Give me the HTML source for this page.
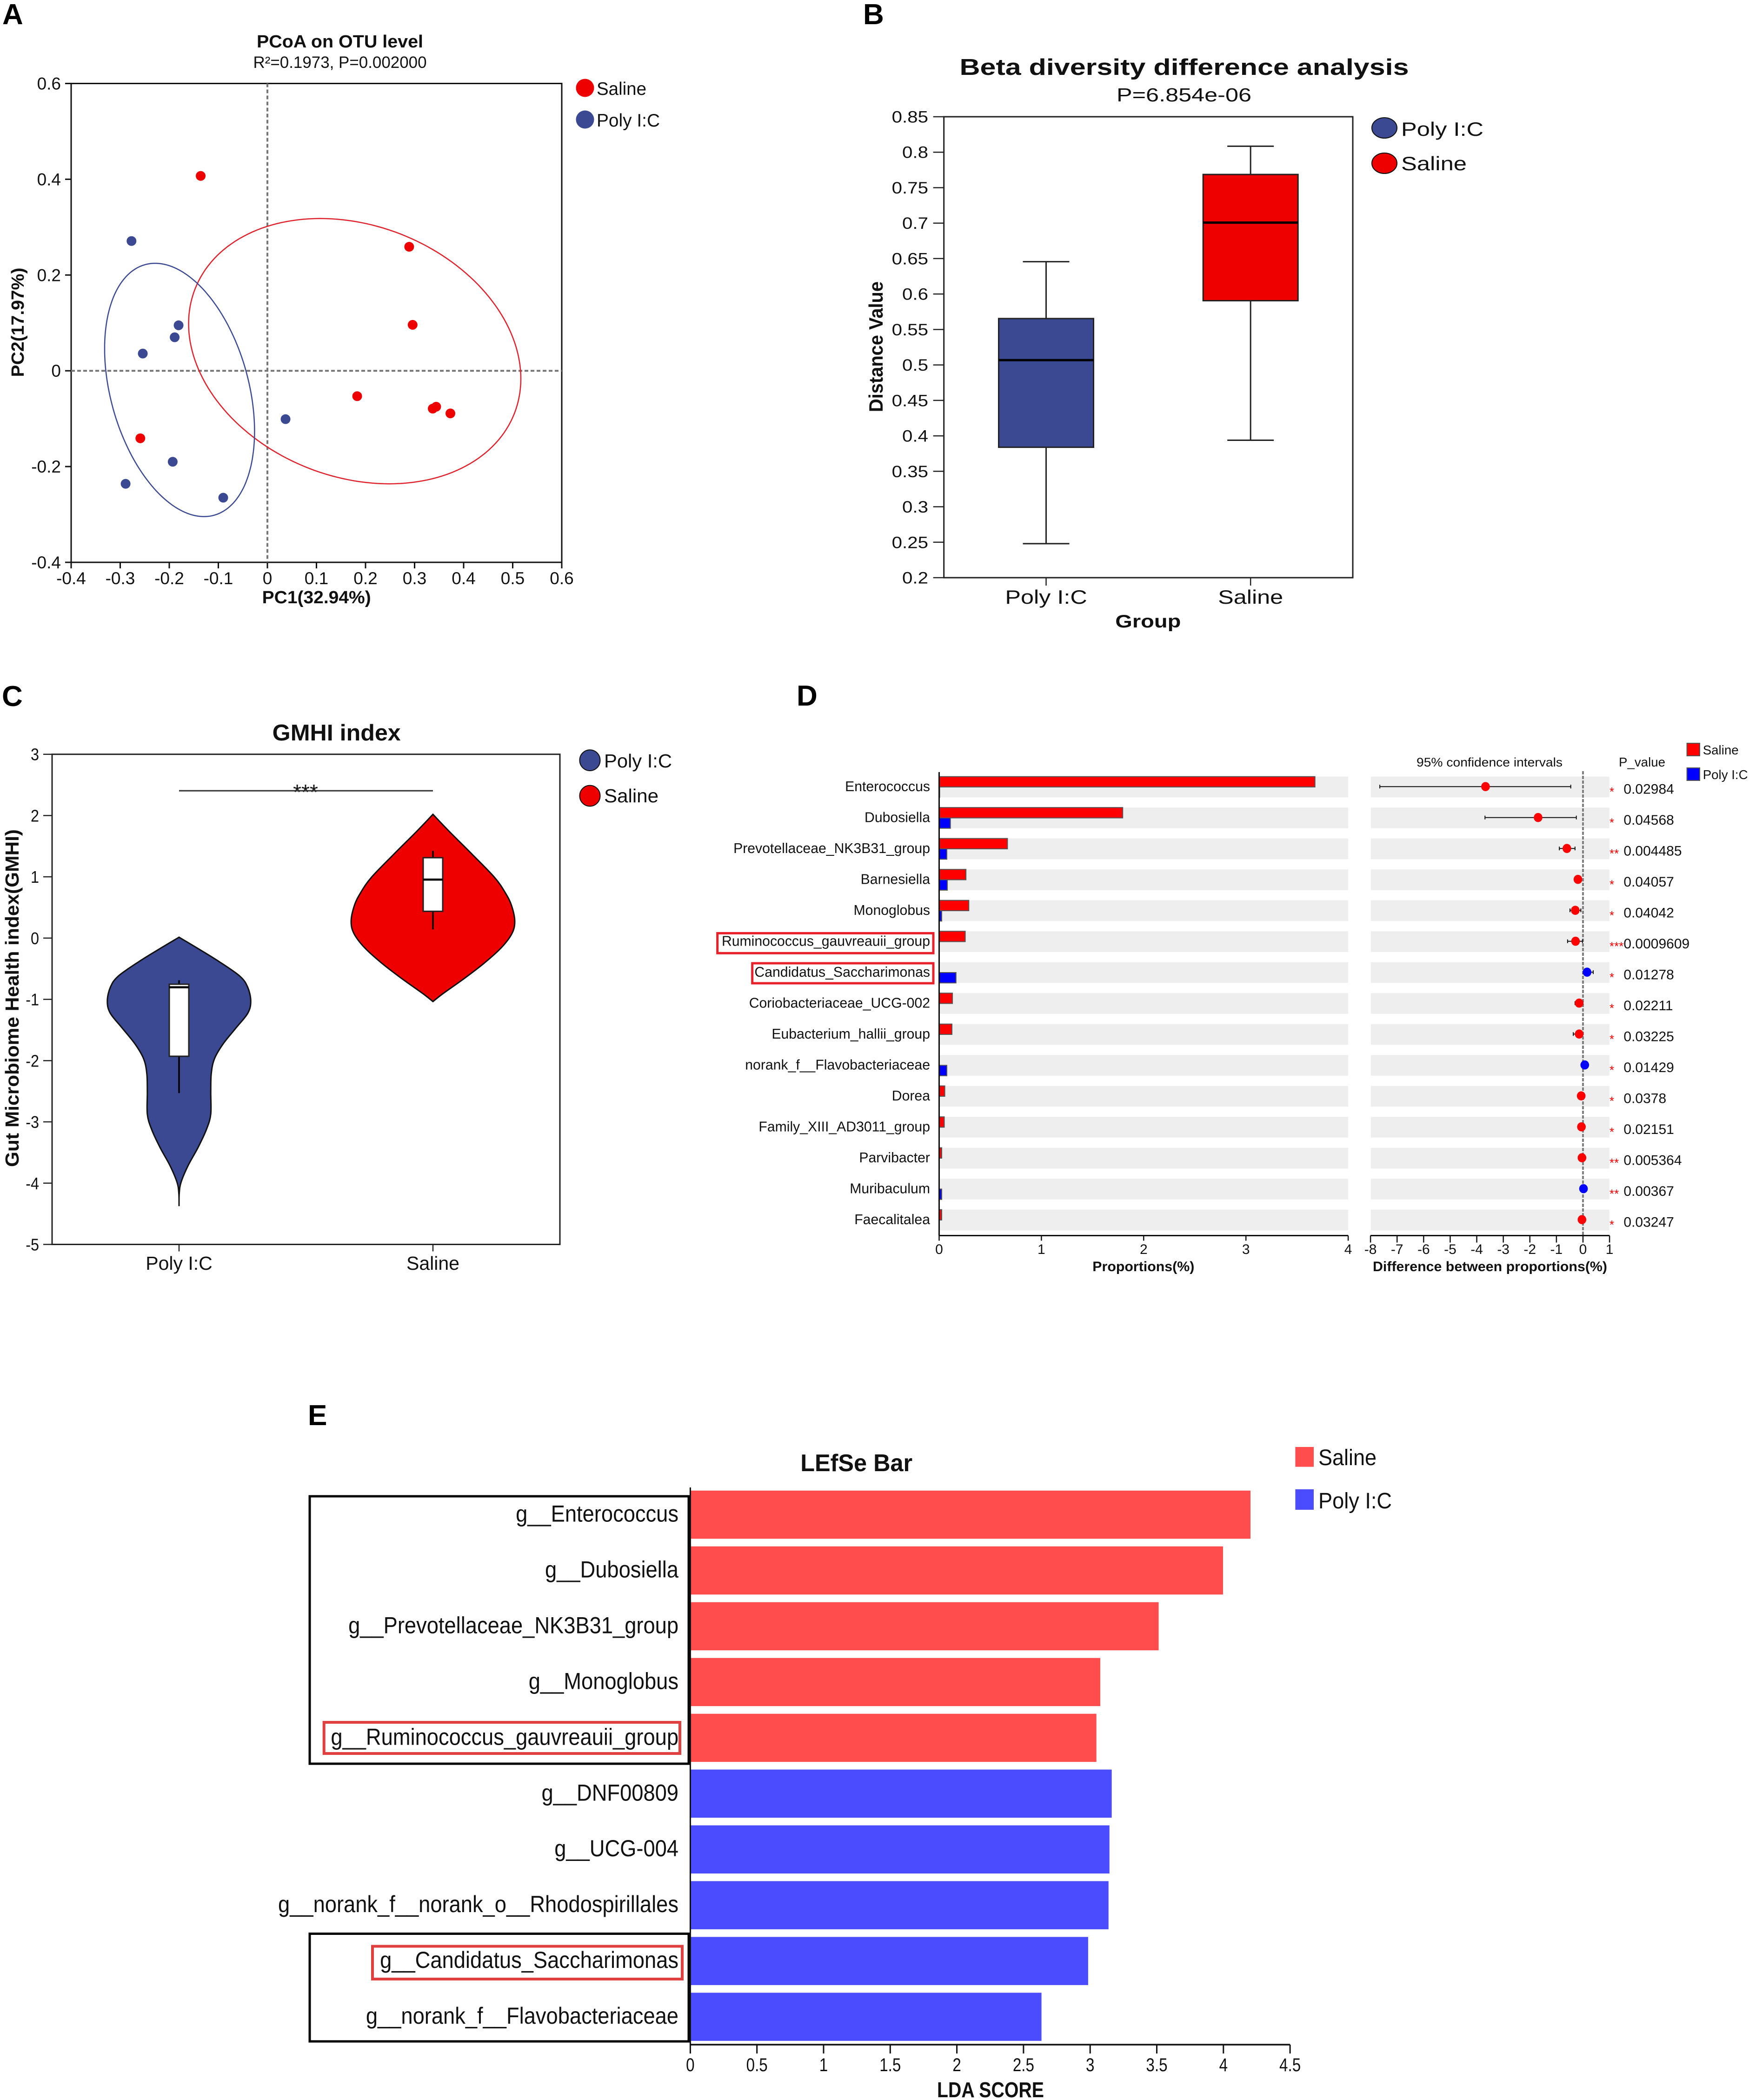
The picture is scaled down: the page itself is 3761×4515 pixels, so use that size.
<!DOCTYPE html>
<html lang="en">
<head>
<meta charset="utf-8">
<title>Gut microbiome figure</title>
<style>
html,body{margin:0;padding:0;background:#fff;}
svg{display:block;font-family:"Liberation Sans",sans-serif;fill:#111;}
text{white-space:pre;}
</style>
</head>
<body>
<svg id="figure" xmlns="http://www.w3.org/2000/svg" width="3761" height="4515" viewBox="0 0 3761 4515">
<rect x="0" y="0" width="3761" height="4515" fill="#fff"/>

<g id="panelA">
  <text x="5" y="52" font-size="62" font-weight="700" fill="#000">A</text>
  <text x="731" y="102" font-size="38" font-weight="700" text-anchor="middle" textLength="358" lengthAdjust="spacingAndGlyphs">PCoA on OTU level</text>
  <text x="731" y="146" font-size="34.8" text-anchor="middle" textLength="373" lengthAdjust="spacingAndGlyphs">R²=0.1973, P=0.002000</text>
  <text x="680.7" y="1297" font-size="38" font-weight="700" text-anchor="middle" textLength="234" lengthAdjust="spacingAndGlyphs">PC1(32.94%)</text>
  <text transform="translate(51,693) rotate(-90)" font-size="38" font-weight="700" text-anchor="middle" textLength="235" lengthAdjust="spacingAndGlyphs">PC2(17.97%)</text>
  <circle cx="1258" cy="189" r="19.5" fill="#EE0000"/>
  <text x="1283" y="204" font-size="38.5" textLength="107" lengthAdjust="spacingAndGlyphs">Saline</text>
  <circle cx="1258" cy="257" r="19.5" fill="#3B4992"/>
  <text x="1283" y="272" font-size="38.5" textLength="136" lengthAdjust="spacingAndGlyphs">Poly I:C</text>
</g>

<g id="panelB">
  <text x="1856" y="52" font-size="62" font-weight="700" fill="#000">B</text>
  <text x="2546.5" y="161" font-size="49" font-weight="700" text-anchor="middle" textLength="966" lengthAdjust="spacingAndGlyphs">Beta diversity difference analysis</text>
  <text x="2546" y="218" font-size="41" text-anchor="middle" textLength="290" lengthAdjust="spacingAndGlyphs">P=6.854e-06</text>
  <text x="2468.8" y="1349" font-size="39" font-weight="700" text-anchor="middle" textLength="141" lengthAdjust="spacingAndGlyphs">Group</text>
  <text transform="translate(1898,745.5) rotate(-90)" font-size="42" font-weight="700" text-anchor="middle" textLength="281" lengthAdjust="spacingAndGlyphs">Distance Value</text>
  <ellipse cx="2977" cy="275" rx="27" ry="22" fill="#3B4992" stroke="#111" stroke-width="2"/>
  <text x="3013" y="292" font-size="42" textLength="177" lengthAdjust="spacingAndGlyphs">Poly I:C</text>
  <ellipse cx="2977" cy="351" rx="27" ry="22" fill="#EE0000" stroke="#111" stroke-width="2"/>
  <text x="3013" y="366" font-size="42" textLength="141" lengthAdjust="spacingAndGlyphs">Saline</text>
</g>

<g id="panelC">
  <text x="4" y="1518" font-size="62" font-weight="700" fill="#000">C</text>
  <text x="723.7" y="1592" font-size="49" font-weight="700" text-anchor="middle" textLength="276" lengthAdjust="spacingAndGlyphs">GMHI index</text>
  <text transform="translate(40,2146) rotate(-90)" font-size="41" font-weight="700" text-anchor="middle" textLength="726" lengthAdjust="spacingAndGlyphs">Gut Microbiome Health index(GMHI)</text>
  <ellipse cx="1268.5" cy="1634.6" rx="22" ry="22.4" fill="#3B4992" stroke="#111" stroke-width="2"/>
  <text x="1299" y="1650" font-size="41" textLength="146" lengthAdjust="spacingAndGlyphs">Poly I:C</text>
  <ellipse cx="1268.5" cy="1711" rx="22" ry="22.4" fill="#EE0000" stroke="#111" stroke-width="2"/>
  <text x="1299" y="1725" font-size="41" textLength="117" lengthAdjust="spacingAndGlyphs">Saline</text>
  <text x="657" y="1719" font-size="46" text-anchor="middle">***</text>
</g>

<g id="panelD">
  <text x="1713" y="1517" font-size="62" font-weight="700" fill="#000">D</text>
  <text x="2458.8" y="2733" font-size="30" font-weight="700" text-anchor="middle" textLength="219" lengthAdjust="spacingAndGlyphs">Proportions(%)</text>
  <text x="3204" y="2733" font-size="30" font-weight="700" text-anchor="middle" textLength="504" lengthAdjust="spacingAndGlyphs">Difference between proportions(%)</text>
  <text x="3203" y="1648" font-size="27" text-anchor="middle" textLength="314" lengthAdjust="spacingAndGlyphs">95% confidence intervals</text>
  <text x="3481" y="1648" font-size="27.5" textLength="100" lengthAdjust="spacingAndGlyphs">P_value</text>
  <rect x="3627.6" y="1598" width="27.4" height="27" fill="#ff0000" stroke="#555" stroke-width="2"/>
  <text x="3661.7" y="1622" font-size="27.7">Saline</text>
  <rect x="3627.6" y="1651" width="27.4" height="27" fill="#0000ff" stroke="#555" stroke-width="2"/>
  <text x="3661.7" y="1675" font-size="27.7">Poly I:C</text>
  <rect x="1542.7" y="2006.4" width="464.3" height="42.9" fill="none" stroke="#e8202a" stroke-width="5"/>
  <rect x="1617.7" y="2071" width="389.3" height="43" fill="none" stroke="#e8202a" stroke-width="5"/>
</g>

<g id="panelE">
  <text x="662" y="3064" font-size="62" font-weight="700" fill="#000">E</text>
  <text x="1841.7" y="3163" font-size="52" font-weight="700" text-anchor="middle" textLength="241" lengthAdjust="spacingAndGlyphs">LEfSe Bar</text>
  <text x="2130" y="4509" font-size="46" font-weight="700" text-anchor="middle" textLength="230" lengthAdjust="spacingAndGlyphs">LDA SCORE</text>
  <rect x="2785.4" y="3111" width="39.6" height="42.6" fill="#ff4d4d"/>
  <text x="2835" y="3150" font-size="48" textLength="125" lengthAdjust="spacingAndGlyphs">Saline</text>
  <rect x="2785.4" y="3202" width="39.6" height="44" fill="#4c4cff"/>
  <text x="2835" y="3243" font-size="48" textLength="158" lengthAdjust="spacingAndGlyphs">Poly I:C</text>
  <rect x="666" y="3217" width="815" height="575" fill="none" stroke="#000" stroke-width="5"/>
  <rect x="666" y="4157.5" width="815" height="231.5" fill="none" stroke="#000" stroke-width="5"/>
  <rect x="696.7" y="3703" width="765.3" height="67" fill="none" stroke="#e04040" stroke-width="6"/>
  <rect x="801" y="4184.5" width="666" height="70.5" fill="none" stroke="#e04040" stroke-width="6"/>
</g>
</svg>

<script>
// ---------- Panel A data ----------
const pcoaXTicks = [-0.4, -0.3, -0.2, -0.1, 0, 0.1, 0.2, 0.3, 0.4, 0.5, 0.6];
const pcoaYTicks = [-0.4, -0.2, 0, 0.2, 0.4, 0.6];
const pcoaSalineX = [-0.136, 0.289, 0.296, 0.183, 0.337, 0.344, 0.373, -0.259];
const pcoaSalineY = [0.407, 0.259, 0.096, -0.053, -0.079, -0.075, -0.089, -0.141];
const pcoaPolyX = [-0.277, -0.181, -0.189, -0.254, 0.037, -0.193, -0.289, -0.09];
const pcoaPolyY = [0.271, 0.095, 0.07, 0.036, -0.101, -0.19, -0.236, -0.265];
const salineEllipse = [0.178, 0.041, 0.3386, 0.277, -0.2075];
const polyEllipse = [-0.179, -0.04, 0.1528, 0.2645, -0.326];

// ---------- Panel B data ----------
const boxGroups = ["Poly I:C", "Saline"];
const boxTicks = [0.85, 0.8, 0.75, 0.7, 0.65, 0.6, 0.55, 0.5, 0.45, 0.4, 0.35, 0.3, 0.25, 0.2];
const boxMin = [0.248, 0.3938];
const boxQ1 = [0.3839, 0.5906];
const boxMedian = [0.5068, 0.7007];
const boxQ3 = [0.5654, 0.7686];
const boxMax = [0.6456, 0.8084];

// ---------- Panel C data ----------
const violinGroups = ["Poly I:C", "Saline"];
const violinTicks = [3, 2, 1, 0, -1, -2, -3, -4, -5];
const polyViolinValue = [0.014, -0.172, -0.383, -0.623, -0.803, -1.028, -1.224, -1.464, -1.733, -1.974, -2.214, -2.515, -2.874, -3.115, -3.415, -3.715, -3.986, -4.166, -4.375];
const polyViolinDensity = [0, 0.265, 0.555, 0.845, 0.953, 0.995, 0.955, 0.792, 0.608, 0.49, 0.447, 0.44, 0.44, 0.383, 0.265, 0.125, 0.028, 0.003, 0];
const salineViolinValue = [2.02, 1.747, 1.367, 0.988, 0.735, 0.532, 0.279, 0.077, -0.151, -0.404, -0.657, -0.91, -1.036];
const salineViolinDensity = [0, 0.221, 0.544, 0.856, 1.006, 1.09, 1.135, 1.097, 0.953, 0.716, 0.437, 0.135, 0];
const violinBoxMin = [-2.53, 0.14];
const violinBoxQ1 = [-1.929, 0.437];
const violinBoxMedian = [-0.803, 0.955];
const violinBoxQ3 = [-0.753, 1.312];
const violinBoxMax = [-0.689, 1.424];
const significanceLevel = [2.405];

// ---------- Panel D data ----------
const diffTaxa = ["Enterococcus", "Dubosiella", "Prevotellaceae_NK3B31_group", "Barnesiella", "Monoglobus", "Ruminococcus_gauvreauii_group", "Candidatus_Saccharimonas", "Coriobacteriaceae_UCG-002", "Eubacterium_hallii_group", "norank_f__Flavobacteriaceae", "Dorea", "Family_XIII_AD3011_group", "Parvibacter", "Muribaculum", "Faecalitalea"];
const salineProportion = [3.675, 1.795, 0.668, 0.262, 0.29, 0.255, 0, 0.13, 0.125, 0, 0.055, 0.05, 0.025, 0, 0.025];
const polyProportion = [0.005, 0.11, 0.075, 0.08, 0.025, 0, 0.165, 0, 0, 0.075, 0, 0, 0, 0.025, 0];
const proportionTicks = [0, 1, 2, 3, 4];
const difference = [-3.67, -1.69, -0.606, -0.19, -0.29, -0.28, 0.154, -0.144, -0.144, 0.067, -0.067, -0.058, -0.038, 0.019, -0.038];
const ciLow = [-7.65, -3.69, -0.89, -0.32, -0.49, -0.58, 0.01, -0.3, -0.365, -0.03, -0.14, -0.12, -0.09, -0.02, -0.1];
const ciHigh = [-0.46, -0.25, -0.3, -0.06, -0.08, -0.02, 0.385, -0.02, -0.02, 0.15, -0.01, -0.01, 0, 0.06, 0];
const differenceTicks = [-8, -7, -6, -5, -4, -3, -2, -1, 0, 1];
const pValues = ["0.02984", "0.04568", "0.004485", "0.04057", "0.04042", "0.0009609", "0.01278", "0.02211", "0.03225", "0.01429", "0.0378", "0.02151", "0.005364", "0.00367", "0.03247"];
const pStars = ["*", "*", "**", "*", "*", "***", "*", "*", "*", "*", "*", "*", "**", "**", "*"];

// ---------- Panel E data ----------
const lefseTaxa = ["g__Enterococcus", "g__Dubosiella", "g__Prevotellaceae_NK3B31_group", "g__Monoglobus", "g__Ruminococcus_gauvreauii_group", "g__DNF00809", "g__UCG-004", "g__norank_f__norank_o__Rhodospirillales", "g__Candidatus_Saccharimonas", "g__norank_f__Flavobacteriaceae"];
const lefseScores = [4.203, 3.997, 3.514, 3.076, 3.047, 3.162, 3.145, 3.138, 2.985, 2.635];
const lefseGroups = ["Saline", "Saline", "Saline", "Saline", "Saline", "Poly I:C", "Poly I:C", "Poly I:C", "Poly I:C", "Poly I:C"];
const lefseTicks = [0, 0.5, 1, 1.5, 2, 2.5, 3, 3.5, 4, 4.5];

// ---------- Helpers ----------
const NS = "http://www.w3.org/2000/svg";
function mk(tag, attrs, parent) {
  const e = document.createElementNS(NS, tag);
  for (const k in attrs) e.setAttribute(k, attrs[k]);
  parent.appendChild(e);
  return e;
}
function line(parent, x1, y1, x2, y2, color, width, dash) {
  const attrs = { x1: x1, y1: y1, x2: x2, y2: y2, stroke: color, "stroke-width": width };
  if (dash) attrs["stroke-dasharray"] = dash;
  return mk("line", attrs, parent);
}
function txt(parent, str, x, y, size, anchor, sx, color, bold) {
  const attrs = { "font-size": size, "text-anchor": anchor || "start" };
  if (sx && sx !== 1) {
    attrs.transform = "translate(" + x + "," + y + ") scale(" + sx + ",1)";
  } else {
    attrs.x = x;
    attrs.y = y;
  }
  if (color) attrs.fill = color;
  if (bold) attrs["font-weight"] = "700";
  const e = mk("text", attrs, parent);
  e.textContent = str;
  return e;
}
function smooth(pts, start) {
  let d = start ? "M" + pts[0][0] + " " + pts[0][1] : "L" + pts[0][0] + " " + pts[0][1];
  for (let i = 0; i < pts.length - 1; i++) {
    const p0 = pts[Math.max(i - 1, 0)], p1 = pts[i], p2 = pts[i + 1], p3 = pts[Math.min(i + 2, pts.length - 1)];
    const c1x = p1[0] + (p2[0] - p0[0]) / 6, c1y = p1[1] + (p2[1] - p0[1]) / 6;
    const c2x = p2[0] - (p3[0] - p1[0]) / 6, c2y = p2[1] - (p3[1] - p1[1]) / 6;
    d += "C" + c1x + " " + c1y + " " + c2x + " " + c2y + " " + p2[0] + " " + p2[1];
  }
  return d;
}
const BLUE = "#3B4992", RED = "#EE0000";

// ---------- Panel A ----------
(function () {
  const g = document.getElementById("panelA");
  const L = 153, R = 1208, T = 179.5, B = 1209;
  const ax = v => L + (v + 0.4) * (R - L);
  const ay = v => T + (0.6 - v) * (B - T);
  const frame = mk("rect", { x: L, y: T, width: R - L, height: B - T, fill: "none", stroke: "#111", "stroke-width": 3 }, g);
  
  
  const zx = line(g, ax(0), T, ax(0), B, "#777", 4, "8 5");
  
  
  const zy = line(g, L, ay(0), R, ay(0), "#777", 4, "8 5");
  
  
  pcoaXTicks.forEach(v => {
    const t = line(g, ax(v), B, ax(v), B + 13, "#111", 3);
    
    
    const l = txt(g, String(v), ax(v), 1256, 37, "middle");
    
    
  });
  pcoaYTicks.forEach(v => {
    const t = line(g, L - 13, ay(v), L, ay(v), "#111", 3);
    
    
    const l = txt(g, String(v), 131, ay(v) + 13, 37, "end");
    
    
  });
  function ellipsePath(p) {
    const s = Math.sqrt(1 - p[4] * p[4]);
    let d = "";
    for (let i = 0; i <= 180; i++) {
      const t = i / 180 * 2 * Math.PI;
      const x = p[0] + p[2] * Math.cos(t);
      const y = p[1] + p[3] * (p[4] * Math.cos(t) + s * Math.sin(t));
      d += (i ? "L" : "M") + ax(x).toFixed(1) + " " + ay(y).toFixed(1);
    }
    return d + "Z";
  }
  const e1 = mk("path", { d: ellipsePath(salineEllipse), fill: "none", stroke: "#e0202a", "stroke-width": 2.5 }, g);
  
  
  const e2 = mk("path", { d: ellipsePath(polyEllipse), fill: "none", stroke: "#3B4992", "stroke-width": 2.5 }, g);
  
  
  pcoaSalineX.forEach((x, i) => {
    const c = mk("circle", { cx: ax(x), cy: ay(pcoaSalineY[i]), r: 10.5, fill: RED }, g);
    
    
  });
  pcoaPolyX.forEach((x, i) => {
    const c = mk("circle", { cx: ax(x), cy: ay(pcoaPolyY[i]), r: 10.5, fill: BLUE }, g);
    
    
  });
})();

// ---------- Panel B ----------
(function () {
  const g = document.getElementById("panelB");
  const L = 2029.7, R = 2909, T = 251, B = 1242;
  const by = v => T + (0.85 - v) * (B - T) / 0.65;
  const bx = i => L + (i + 0.5) * (R - L) / boxGroups.length;
  const frame = mk("rect", { x: L, y: T, width: R - L, height: B - T, fill: "none", stroke: "#222", "stroke-width": 3 }, g);
  
  
  boxTicks.forEach(v => {
    const t = line(g, L - 23, by(v), L, by(v), "#222", 2.5);
    
    
    const l = txt(g, String(v), 1996, by(v) + 12.5, 35, "end", 1.15);
    
    
  });
  boxGroups.forEach((name, i) => {
    const x = bx(i), color = i === 0 ? BLUE : RED;
    const t = line(g, x, B, x, B + 17, "#222", 2.5);
    
    
    const l = txt(g, name, x, 1298, 42, "middle", 1.2);
    
    
    const w = line(g, x, by(boxMax[i]), x, by(boxMin[i]), "#222", 3);
    
    
    const c1 = line(g, x - 50, by(boxMax[i]), x + 50, by(boxMax[i]), "#222", 3);
    
    
    const c2 = line(g, x - 50, by(boxMin[i]), x + 50, by(boxMin[i]), "#222", 3);
    
    
    const b = mk("rect", { x: x - 102, y: by(boxQ3[i]), width: 204, height: by(boxQ1[i]) - by(boxQ3[i]), fill: color, stroke: "#222", "stroke-width": 3 }, g);
    
    
    const m = line(g, x - 102, by(boxMedian[i]), x + 102, by(boxMedian[i]), "#000", 5);
    
    
  });
})();

// ---------- Panel C ----------
(function () {
  const g = document.getElementById("panelC");
  const L = 112, R = 1204, T = 1621.7, B = 2675.5;
  const vy = v => T + (3 - v) * (B - T) / 8;
  const vx = i => L + (i + 0.5) * (R - L) / violinGroups.length;
  const widthScale = 155;
  const frame = mk("rect", { x: L, y: T, width: R - L, height: B - T, fill: "none", stroke: "#222", "stroke-width": 3 }, g);
  
  
  violinTicks.forEach(v => {
    const t = line(g, L - 19, vy(v), L, vy(v), "#222", 2.5);
    
    
    const l = txt(g, String(v), 84, vy(v) + 13, 36, "end", 0.9);
    
    
  });
  const vals = [polyViolinValue, salineViolinValue];
  const dens = [polyViolinDensity, salineViolinDensity];
  violinGroups.forEach((name, i) => {
    const x = vx(i), color = i === 0 ? BLUE : RED;
    const t = line(g, x, B, x, B + 15, "#222", 2.5);
    
    
    const l = txt(g, name, x, 2730, 41, "middle");
    
    
    const right = vals[i].map((v, k) => [x + dens[i][k] * widthScale, vy(v)]);
    const left = vals[i].map((v, k) => [x - dens[i][k] * widthScale, vy(v)]).reverse();
    const p = mk("path", { d: smooth(right, true) + smooth(left, false) + "Z", fill: color, stroke: "#111", "stroke-width": 3 }, g);
    
    
    const w = line(g, x, vy(violinBoxMax[i]), x, vy(violinBoxMin[i]), "#000", 3.5);
    
    
    const b = mk("rect", { x: x - 21, y: vy(violinBoxQ3[i]), width: 42, height: vy(violinBoxQ1[i]) - vy(violinBoxQ3[i]), fill: "#fff", stroke: "#222", "stroke-width": 3 }, g);
    
    
    const m = line(g, x - 21, vy(violinBoxMedian[i]), x + 21, vy(violinBoxMedian[i]), "#000", 4.5);
    
    
  });
  const sig = line(g, vx(0), vy(significanceLevel[0]), vx(1), vy(significanceLevel[0]), "#333", 3);
  
  
})();

// ---------- Panel D ----------
(function () {
  const g = document.getElementById("panelD");
  const px = v => 2019.5 + v * 219.9;
  const dx = v => 3404 + v * 57.11;
  const rowTop = i => 1669.7 + i * 66.5;
  const rowH = 44.6, axisY = 2656.5;
  diffTaxa.forEach((name, i) => {
    const top = rowTop(i);
    const r1 = mk("rect", { x: 2019.5, y: top, width: 879.6, height: rowH, fill: "#eeeeee" }, g);
    
    
    const r2 = mk("rect", { x: 2947.8, y: top, width: 513, height: rowH, fill: "#eeeeee" }, g);
    
    
    const l = txt(g, name, 2000, top + rowH / 2 + 9, 30.2, "end");
    
    
    const bar1 = mk("rect", { x: px(0), y: top, width: px(salineProportion[i]) - px(0), height: rowH / 2, fill: "#ff0000", stroke: "#555", "stroke-width": 2 }, g);
    
    
    const bar2 = mk("rect", { x: px(0), y: top + rowH / 2, width: px(polyProportion[i]) - px(0), height: rowH / 2, fill: "#0000ff", stroke: "#555", "stroke-width": 2 }, g);
    
    
  });
  const zero = line(g, dx(0), 1658, dx(0), axisY, "#808080", 4, "7 3");
  
  
  diffTaxa.forEach((name, i) => {
    const cy = rowTop(i) + rowH / 2 - 0.8;
    const ci = line(g, dx(ciLow[i]), cy, dx(ciHigh[i]), cy, "#111", 2);
    
    
    const c1 = line(g, dx(ciLow[i]), cy - 4, dx(ciLow[i]), cy + 4, "#111", 2);
    
    
    const c2 = line(g, dx(ciHigh[i]), cy - 4, dx(ciHigh[i]), cy + 4, "#111", 2);
    
    
    const dot = mk("ellipse", { cx: dx(difference[i]), cy: cy, rx: 9.3, ry: 9.8, fill: difference[i] > 0 ? "#0000ff" : "#ff0000" }, g);
    
    
    const p = txt(g, pValues[i], 3491.4, 1696 + i * 66.5 + 10.7, 30, "start");
    
    
    const s = txt(g, pStars[i], 3461, 1696 + i * 66.5 + 15, 26, "start", 1, "#ff0000");
    
    
  });
  const yAxis = line(g, px(0), 1660, px(0), axisY, "#111", 3);
  
  
  const xAxis1 = line(g, px(0), axisY, px(4), axisY, "#111", 3);
  
  
  const xAxis2 = line(g, dx(-8), axisY, dx(1), axisY, "#111", 3);
  
  
  proportionTicks.forEach(v => {
    const t = line(g, px(v), axisY, px(v), axisY + 11, "#111", 2.5);
    
    
    const l = txt(g, String(v), px(v), 2696, 30, "middle");
    
    
  });
  differenceTicks.forEach(v => {
    const t = line(g, dx(v), axisY, dx(v), axisY + 15, "#111", 2.5);
    
    
    const l = txt(g, String(v), dx(v), 2696, 30, "middle");
    
    
  });
})();

// ---------- Panel E ----------
(function () {
  const g = document.getElementById("panelE");
  const lx = v => 1484.4 + v * 286.6;
  const axisY = 4396;
  lefseTaxa.forEach((name, i) => {
    const top = 3204.8 + i * 119.95;
    const bar = mk("rect", { x: lx(0), y: top, width: lx(lefseScores[i]) - lx(0), height: 103.5, fill: lefseGroups[i] === "Saline" ? "#ff4d4d" : "#4c4cff" }, g);
    
    
    const l = txt(g, name, 1459, top + 51.7 + 15, 50, "end", 0.906);
    
    
  });
  const yAxis = line(g, lx(0), 3198, lx(0), axisY, "#111", 3);
  
  
  const xAxis = line(g, lx(0), axisY, lx(4.5), axisY, "#111", 3.5);
  
  
  lefseTicks.forEach(v => {
    const t = line(g, lx(v), axisY, lx(v), axisY + 19, "#111", 3);
    
    
    const l = txt(g, String(v), lx(v), 4453, 40, "middle", 0.83);
    
    
  });
})();
</script>
</body>
</html>
